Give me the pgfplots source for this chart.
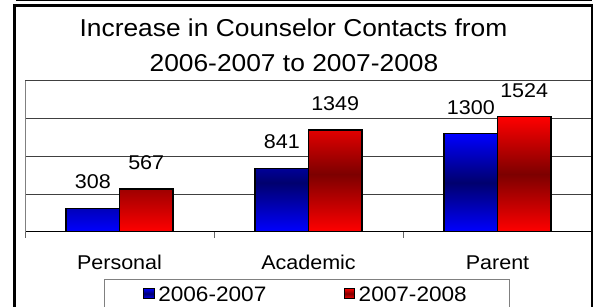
\documentclass[border=0pt]{standalone}
\usepackage{fontspec}
\setmainfont{Liberation Sans}[FakeStretch=1.08]
\usepackage{pgfplots}
\pgfplotsset{compat=1.18}
\definecolor{bblue}{RGB}{0,0,255}
\definecolor{dblue}{RGB}{0,0,110}
\definecolor{bred}{RGB}{255,0,0}
\definecolor{dred}{RGB}{125,0,0}
\pgfplotsset{
  mylegend/.style={legend image code/.code={%
    \draw[##1, draw=black, line width=0.9bp] (0bp,-1.7bp) rectangle (10.5bp,8.7bp);}},
}
\begin{document}
\begin{tikzpicture}[x=1bp,y=1bp]
\useasboundingbox (0,0) rectangle (597,306);
\fill[white] (0,0) rectangle (597,306);
\begin{axis}[
  at={(25bp,74.3bp)}, anchor=south west,
  scale only axis, width=567bp, height=151bp,
  xmin=-0.5, xmax=2.5, ymin=0, ymax=2000,
  clip=false,
  axis x line*=bottom, axis y line*=left,
  x axis line style={black, line width=1bp, -},
  y axis line style={black!50, line width=1bp, -},
  ytick={0,500,1000,1500,2000}, yticklabels={},
  ytick style={draw=none},
  ymajorgrids, major grid style={black!75, line width=0.8bp},
  xtick={0,1,2}, xticklabels={Personal,Academic,Parent},
  major x tick style={draw=none},
  major tick length=0bp,
  minor xtick={-0.5,0.5,1.5,2.5},
  minor tick length=6bp, tick align=outside,
  minor x tick style={draw=black!60, line width=0.9bp},
  xticklabel style={anchor=base, yshift=-38bp, font=\fontsize{20}{24}\selectfont},
  nodes near coords={\pgfmathprintnumber[assume math mode=true,1000 sep={},fixed,precision=0]{\pgfplotspointmeta}},
  every node near coord/.append style={anchor=base, yshift=19.5bp, text=black, font=\fontsize{20}{24}\selectfont},
  legend columns=2,
  legend style={at={(axis description cs:0.1393,-0.3152)}, anchor=north west,
    draw=black!50, line width=0.8bp, inner xsep=39bp, inner ysep=2.2bp,
    font=\fontsize{21}{25}\selectfont,
    /tikz/every even column/.style={column sep=74bp},
    nodes={inner xsep=3.5bp, inner ysep=2.2bp, text height=17bp, text depth=9bp}},
]
\addplot[ybar, bar width=0.283, bar shift=-0.1415, draw=black, line width=1.3bp,
  top color=bblue, bottom color=bblue, middle color=dblue, mylegend,
  every node near coord/.append style={xshift=-26.7bp}]
  coordinates {(0,308) (1,841) (2,1300)};
\addplot[ybar, bar width=0.283, bar shift=0.1415, draw=black, line width=1.3bp,
  top color=bred, bottom color=bred, middle color=dred, mylegend,
  every node near coord/.append style={xshift=26.7bp}]
  coordinates {(0,567) (1,1349) (2,1524)};
\legend{2006-2007,2007-2008}
\end{axis}
\node[anchor=base, font=\fontsize{24.5}{28}\selectfont] at (293.5,269.3) {Increase in Counselor Contacts from};
\node[anchor=base, font=\fontsize{24.5}{28}\selectfont] at (294,235) {2006-2007 to 2007-2008};
\draw[line width=2.8bp] (14.7,-5) -- (14.7,300.7) -- (592,300.7) -- (592,-5);
\draw[line width=1.3bp] (16,305.4) -- (592,305.4);
\end{tikzpicture}
\end{document}
